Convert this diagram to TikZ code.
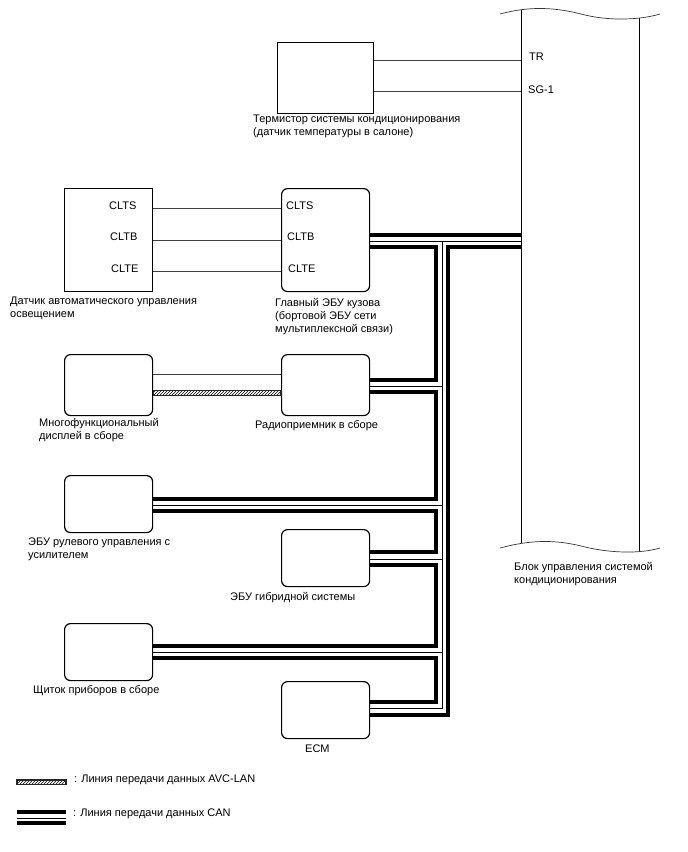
\documentclass[tikz,border=0pt]{standalone}
\usepackage{fontspec}
\setmainfont{Liberation Sans}
\usepackage{tikz}
\usetikzlibrary{patterns}

\begin{document}
\begin{tikzpicture}[x=1pt,y=-1pt,
  every node/.style={font=\fontsize{11}{13.3}\selectfont,inner sep=0pt,anchor=north west,align=left},
  pin/.style={anchor=west},
  sharpbox/.style={draw,line width=1.2pt,inner sep=0pt},
  ecubox/.style={sharpbox,rounded corners=6pt,minimum width=88pt},
  wire/.style={line width=0.8pt,black!75},
  canthick/.style={line width=4pt,line join=miter},
  canthin/.style={line width=0.9pt},
  avcbus/.style={draw=black!85,line width=1.4pt,pattern=north east lines,pattern color=black}]
\useasboundingbox (0,0) rectangle (688,852);

% air conditioning block
\coordinate (bl) at (521,300);
\coordinate (br) at (639,300);
\draw[line width=1pt] (521,9.5) -- (521,542.5);
\draw[line width=1pt] (639,18) -- (639,552);
\draw[line width=0.7pt,black!80] (500,14) .. controls (530,6) and (555,7) .. (585,15) .. controls (610,21) and (640,20) .. (660,14);
\draw[line width=0.7pt,black!80] (500,548) .. controls (530,540) and (555,539) .. (585,547) .. controls (610,553) and (640,554) .. (660,548);

% boxes
\node[sharpbox,minimum width=96pt,minimum height=71pt] (th) at (277,42) {};
\node[sharpbox,minimum width=88pt,minimum height=103pt] (sens) at (64,188) {};
\node[ecubox,minimum height=103pt] (gw) at (281,188) {};
\node[ecubox,minimum height=61pt] (mfd) at (64,354) {};
\node[ecubox,minimum height=61pt] (rad) at (281,354) {};
\node[ecubox,minimum height=57pt] (eps) at (64,475) {};
\node[ecubox,minimum height=57pt] (hyb) at (281,529) {};
\node[ecubox,minimum height=57pt] (cmb) at (64,623) {};
\node[ecubox,minimum height=57pt] (ecm) at (281,681) {};

% pin names
\node[pin] (tr) at (529,57) {TR};
\node[pin] (sg) at (528,90) {SG-1};
\node[pin] (s1) at (109,206) {CLTS};
\node[pin] (s2) at (110,237) {CLTB};
\node[pin] (s3) at (111,269) {CLTE};
\node[pin] (g1) at (286,206) {CLTS};
\node[pin] (g2) at (287,237) {CLTB};
\node[pin] (g3) at (288,269) {CLTE};

% captions
\node (thlab) at (253,114.5) {Термистор системы кондиционирования\\(датчик температуры в салоне)};
\node (senslab) at (10,296.5) {Датчик автоматического управления\\освещением};
\node (gwlab) at (275,298) {Главный ЭБУ кузова\\(бортовой ЭБУ сети\\мультиплексной связи)};
\node (mfdlab) at (39,418) {Многофункциональный\\дисплей в сборе};
\node (radlab) at (255,420.5) {Радиоприемник в сборе};
\node (epslab) at (28,537.5) {ЭБУ рулевого управления с\\усилителем};
\node (hyblab) at (230,592) {ЭБУ гибридной системы};
\node (cmblab) at (33,685) {Щиток приборов в сборе};
\node (ecmlab) at (305,744.5) {ECM};
\node (blklab) at (514,562) {Блок управления системой\\кондиционирования};
\node (avclab) at (74,774.5) {: Линия передачи данных AVC-LAN};
\node (canlab) at (73,808.5) {: Линия передачи данных CAN};

% thin wires
\draw[wire] (th.east |- 0,60) -- (bl |- 0,60);
\draw[wire] (th.east |- 0,91) -- (bl |- 0,91);
\draw[wire] (sens.east |- 0,208) -- (gw.west |- 0,208);
\draw[wire] (sens.east |- 0,240) -- (gw.west |- 0,240);
\draw[wire] (sens.east |- 0,271) -- (gw.west |- 0,271);
\draw[wire] (mfd.east |- 0,374) -- (rad.west |- 0,374);
\draw[avcbus] (mfd.east |- 0,390.5) rectangle (rad.west |- 0,395.5);

% CAN bus
\draw[canthick] (gw.east |- 0,235) -- (bl |- 0,235);
\draw[canthick] (gw.east |- 0,247) -- (436,247) -- (436,380) -- (rad.east |- 0,380);
\draw[canthick] (rad.east |- 0,392) -- (436,392) -- (436,499) -- (eps.east |- 0,499);
\draw[canthick] (eps.east |- 0,511) -- (436,511) -- (436,552) -- (hyb.east |- 0,552);
\draw[canthick] (hyb.east |- 0,565) -- (436,565) -- (436,646) -- (cmb.east |- 0,646);
\draw[canthick] (cmb.east |- 0,658) -- (436,658) -- (436,702) -- (ecm.east |- 0,702);
\draw[canthick] (ecm.east |- 0,715) -- (448,715) -- (448,247) -- (bl |- 0,247);
\draw[canthin] (gw.east |- 0,241) -- (bl |- 0,241);
\draw[canthin] (442,241) -- (442,708) -- (ecm.east |- 0,708);
\draw[canthin] (rad.east |- 0,386) -- (442,386);
\draw[canthin] (eps.east |- 0,505) -- (442,505);
\draw[canthin] (hyb.east |- 0,559) -- (442,559);
\draw[canthin] (cmb.east |- 0,652) -- (442,652);

% legend
\coordinate (ka) at (17,0);
\coordinate (kb) at (66,0);
\draw[avcbus] (ka |- 0,780) rectangle (kb |- 0,784.5);
\draw[canthick] (ka |- 0,812) -- (kb |- 0,812);
\draw[canthin] (ka |- 0,818) -- (kb |- 0,818);
\draw[canthick] (ka |- 0,823) -- (kb |- 0,823);
\end{tikzpicture}
\end{document}
